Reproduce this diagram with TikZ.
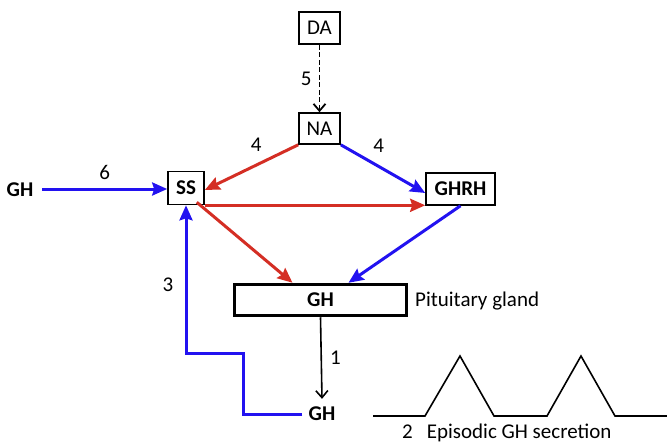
\documentclass[tikz,border=0pt]{standalone}
\usepackage{fontspec}
\setmainfont{Carlito}
\usetikzlibrary{arrows.meta,calc}
\definecolor{myred}{RGB}{212,46,36}
\definecolor{myblue}{RGB}{34,18,240}
\tikzset{
  box/.style={draw=black,line width=1.6pt,fill=white,inner sep=0pt,font=\fontsize{21}{24}\selectfont},
  lbl/.style={font=\fontsize{21}{24}\selectfont,inner sep=0pt},
  bl/.style={font=\fontsize{21}{24}\selectfont\bfseries,inner sep=0pt},
  redarr/.style={draw=myred,line width=3pt,-{Stealth[length=15pt,width=13pt,inset=2pt]}},
  bluearr/.style={draw=myblue,line width=3pt,-{Stealth[length=15pt,width=13pt,inset=2pt]}},
  blackarr/.style={draw=black,line width=1.6pt,-{Straight Barb[length=7pt,width=12pt]}},
}
\begin{document}
\begin{tikzpicture}[x=1pt,y=-1pt]
\useasboundingbox (0,0) rectangle (667,444);
\node[box,minimum width=41pt,minimum height=32pt] (DA) at (319.5,28) {DA};
\node[box,minimum width=41pt,minimum height=31pt] (NA) at (319.5,128.5) {NA};
\node[box,minimum width=36pt,minimum height=33pt,font=\fontsize{21}{24}\selectfont\bfseries] (SS) at (186,188) {SS};
\node[box,minimum width=69pt,minimum height=32pt,font=\fontsize{21}{24}\selectfont\bfseries] (GHRH) at (460.5,189) {GHRH};
\node[box,line width=3.5pt,minimum width=172pt,minimum height=31pt,font=\fontsize{21}{24}\selectfont\bfseries] (GH) at (320.5,300) {GH};
\node[lbl,anchor=west] (pit) at (415,301) {Pituitary gland};
\node[bl] (ghl) at (20,190) {GH};
\node[bl] (gh2) at (322,414) {GH};
\node[lbl,anchor=west] (epi) at (402,433) {2\hspace{14pt}Episodic GH secretion};
% connectors
\draw[blackarr,line width=1.8pt,dash pattern=on 5pt off 2.5pt] (DA.south) -- (NA.north) node[lbl,midway,left=7pt] {5};
\draw[redarr] (NA.south west) -- ([yshift=-2pt]SS.east) node[lbl,pos=0.45,above=12pt] {4};
\draw[bluearr] (NA.south east) -- ([yshift=-4pt]GHRH.west) node[lbl,pos=0.45,above=12pt] {4};
\draw[bluearr] (42,189) -- (SS.west |- 0,189) node[lbl,midway,above=8pt] {6};
\draw[redarr] (SS.south east) -- (SS.south east -| GHRH.west);
\draw[redarr] ([xshift=-8pt,yshift=3pt]SS.south east) -- ([xshift=-28pt]GH.north);
\draw[bluearr] (GHRH.south) -- ([xshift=28pt]GH.north);
\draw[blackarr] (GH.south) -- ([yshift=8pt]gh2.north) node[lbl,midway,right=8pt] {1};
\draw[bluearr,line join=miter] ([xshift=-6pt]gh2.west) -| (243,353) -| (SS.south);
\node[lbl] (three) at (168,285) {3};
% waveform
\draw[line width=1.6pt,line join=miter] (373,416) -- (425,416) -- (460,356) -- (494,416) -- (547,416) -- (581,356) -- (615,416) -- (667,416);
\end{tikzpicture}
\end{document}
